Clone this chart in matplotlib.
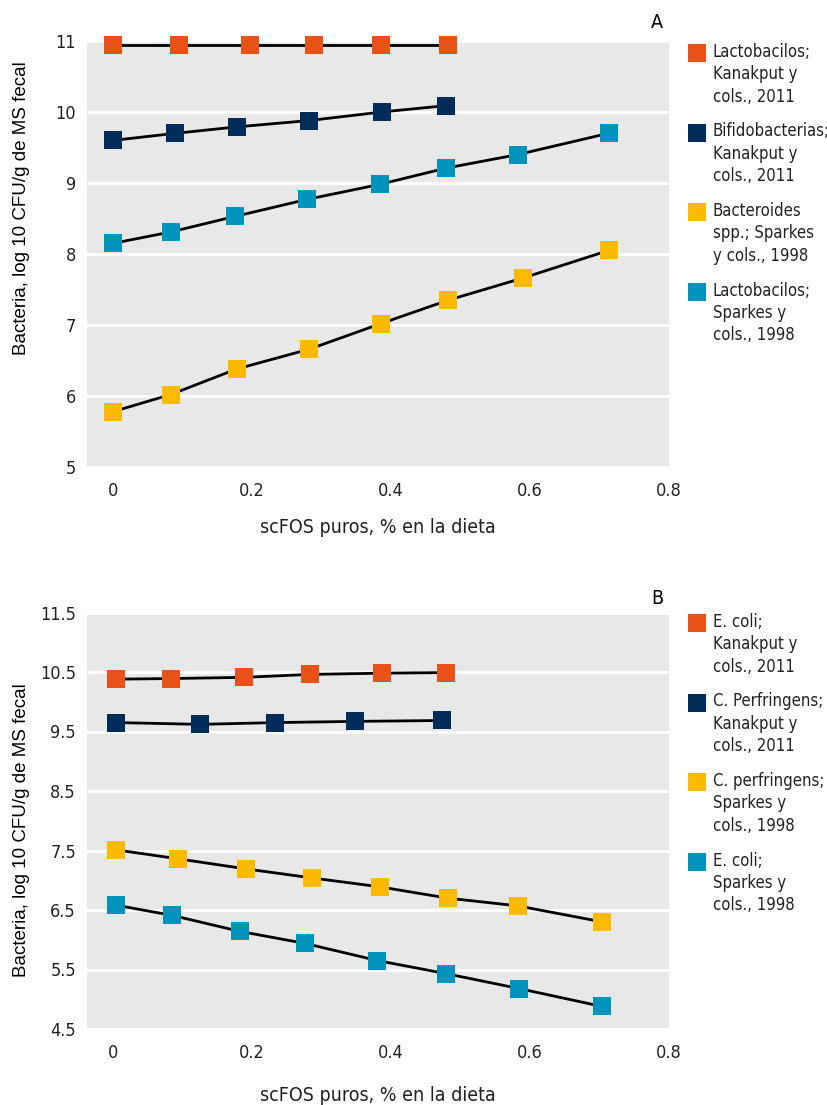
import matplotlib
matplotlib.use("Agg")
import matplotlib.pyplot as plt
from matplotlib import font_manager

# --- data ---
# Panel A
a_lacto_kan_x = [0, 0.095, 0.198, 0.290, 0.386, 0.483]
a_lacto_kan_y = [10.94, 10.94, 10.94, 10.94, 10.94, 10.94]
a_bifido_kan_x = [0, 0.090, 0.178, 0.283, 0.387, 0.480]
a_bifido_kan_y = [9.60, 9.70, 9.79, 9.88, 10.00, 10.09]
a_bacter_spa_x = [0, 0.083, 0.178, 0.283, 0.386, 0.483, 0.590, 0.714]
a_bacter_spa_y = [5.78, 6.02, 6.38, 6.66, 7.02, 7.35, 7.66, 8.05]
a_lacto_spa_x = [0, 0.083, 0.176, 0.280, 0.384, 0.480, 0.583, 0.714]
a_lacto_spa_y = [8.15, 8.31, 8.53, 8.77, 8.98, 9.21, 9.40, 9.70]

# Panel B
b_ecoli_kan_x = [0.005, 0.083, 0.189, 0.284, 0.387, 0.479]
b_ecoli_kan_y = [10.38, 10.39, 10.41, 10.46, 10.48, 10.49]
b_cperf_kan_x = [0.005, 0.126, 0.234, 0.349, 0.474]
b_cperf_kan_y = [9.65, 9.62, 9.65, 9.67, 9.685]
b_cperf_spa_x = [0.005, 0.094, 0.192, 0.286, 0.384, 0.482, 0.583, 0.705]
b_cperf_spa_y = [7.51, 7.36, 7.19, 7.04, 6.89, 6.70, 6.57, 6.30]
b_ecoli_spa_x = [0.005, 0.085, 0.183, 0.276, 0.381, 0.480, 0.585, 0.704]
b_ecoli_spa_y = [6.58, 6.41, 6.14, 5.94, 5.65, 5.43, 5.18, 4.88]

a_labels = ["Lactobacilos;\nKanakput y\ncols., 2011",
            "Bifidobacterias;\nKanakput y\ncols., 2011",
            "Bacteroides\nspp.; Sparkes\ny cols., 1998",
            "Lactobacilos;\nSparkes y\ncols., 1998"]
b_labels = ["E. coli;\nKanakput y\ncols., 2011",
            "C. Perfringens;\nKanakput y\ncols., 2011",
            "C. perfringens;\nSparkes y\ncols., 1998",
            "E. coli;\nSparkes y\ncols., 1998"]

x_ticks = [0, 0.2, 0.4, 0.6, 0.8]
x_tick_labels = ["0", "0.2", "0.4", "0.6", "0.8"]
a_y_ticks = [5, 6, 7, 8, 9, 10, 11]
b_y_ticks = [4.5, 5.5, 6.5, 7.5, 8.5, 9.5, 10.5, 11.5]

colors = ["#E85118", "#002C5A", "#FBBA00", "#0093BC"]
W, H = 828, 1105

# the reference uses a condensed face; pick one if installed
cond = sorted(f.fname for f in font_manager.fontManager.ttflist
              if ("Condensed" in f.fname or "Narrow" in f.fname)
              and not any(k in f.fname for k in ("Bold", "Oblique", "Italic", "Light",
                                                   "Thin", "Black", "Medium", "Semi", "Extra")))
if cond:
    narrow = font_manager.FontProperties(fname=cond[0])
    base = 12
else:
    narrow = font_manager.FontProperties(family=["Lato", "DejaVu Sans"])
    base = 11.5

fig = plt.figure(figsize=(W / 100, H / 100), dpi=100)


def px(x, y):
    return x / W, 1 - y / H


def draw_panel(rect, series, yticks, ylim, letter, letter_y, labels, leg_y0, ylab_y, xlab_pad):
    ax = fig.add_axes(rect)
    ax.set_facecolor("#E8E8E8")
    for s in ax.spines.values():
        s.set_visible(False)
    ax.set_xlim(-0.0375, 0.801)
    ax.set_ylim(*ylim)
    ax.set_yticks(yticks)
    ax.set_yticklabels([f"{v:g}" for v in yticks])
    ax.set_xticks(x_ticks)
    ax.set_xticklabels(x_tick_labels)
    ax.tick_params(length=0, pad=8)
    ax.tick_params(axis="x", pad=11)
    for lab in ax.get_xticklabels() + ax.get_yticklabels():
        lab.set_fontproperties(narrow)
        lab.set_size(13)
        lab.set_color("#222222")
    ax.yaxis.grid(True, color="white", linewidth=2)
    ax.set_axisbelow(True)
    for (xs, ys), c in zip(series, colors):
        ax.plot(xs, ys, color="black", linewidth=2, zorder=2)
        ax.plot(xs, ys, linestyle="none", marker="s", markersize=13.5,
                markerfacecolor=c, markeredgewidth=0, zorder=3, clip_on=False)
    ax.set_xlabel("scFOS puros, % en la dieta", fontproperties=narrow,
                  fontsize=14, labelpad=xlab_pad, color="#222222")
    ax.set_ylabel("Bacteria, log 10 CFU/g de MS fecal", fontsize=13.5,
                  family=["Liberation Sans", "DejaVu Sans"], va="center")
    ax.yaxis.set_label_coords(-0.112, ylab_y)
    fig.text(*px(657, letter_y), letter, fontproperties=narrow, fontsize=14,
             ha="center", va="center")
    for i, (lab, c) in enumerate(zip(labels, colors)):
        y = leg_y0 + i * 79.5
        fig.lines.append(plt.Line2D([697 / W], [1 - y / H], marker="s",
                                    markersize=13.5, markerfacecolor=c,
                                    markeredgewidth=0, linestyle="none",
                                    transform=fig.transFigure))
        fig.text(*px(713, y - 10), lab, fontproperties=narrow, fontsize=base,
                 va="top", ha="left", linespacing=1.32, color="#222222")
    return ax


series_a = [(a_lacto_kan_x, a_lacto_kan_y), (a_bifido_kan_x, a_bifido_kan_y),
            (a_bacter_spa_x, a_bacter_spa_y), (a_lacto_spa_x, a_lacto_spa_y)]
series_b = [(b_ecoli_kan_x, b_ecoli_kan_y), (b_cperf_kan_x, b_cperf_kan_y),
            (b_cperf_spa_x, b_cperf_spa_y), (b_ecoli_spa_x, b_ecoli_spa_y)]

draw_panel([87 / W, 1 - 467 / H, 582 / W, 426 / H], series_a, a_y_ticks, (5, 11),
           "A", 23, a_labels, 53, 0.608, 13)
draw_panel([87 / W, 1 - 1029 / H, 582 / W, 416.5 / H], series_b, b_y_ticks, (4.5, 11.5),
           "B", 598, b_labels, 623, 0.478, 17)

fig.savefig("out.png", dpi=100)
